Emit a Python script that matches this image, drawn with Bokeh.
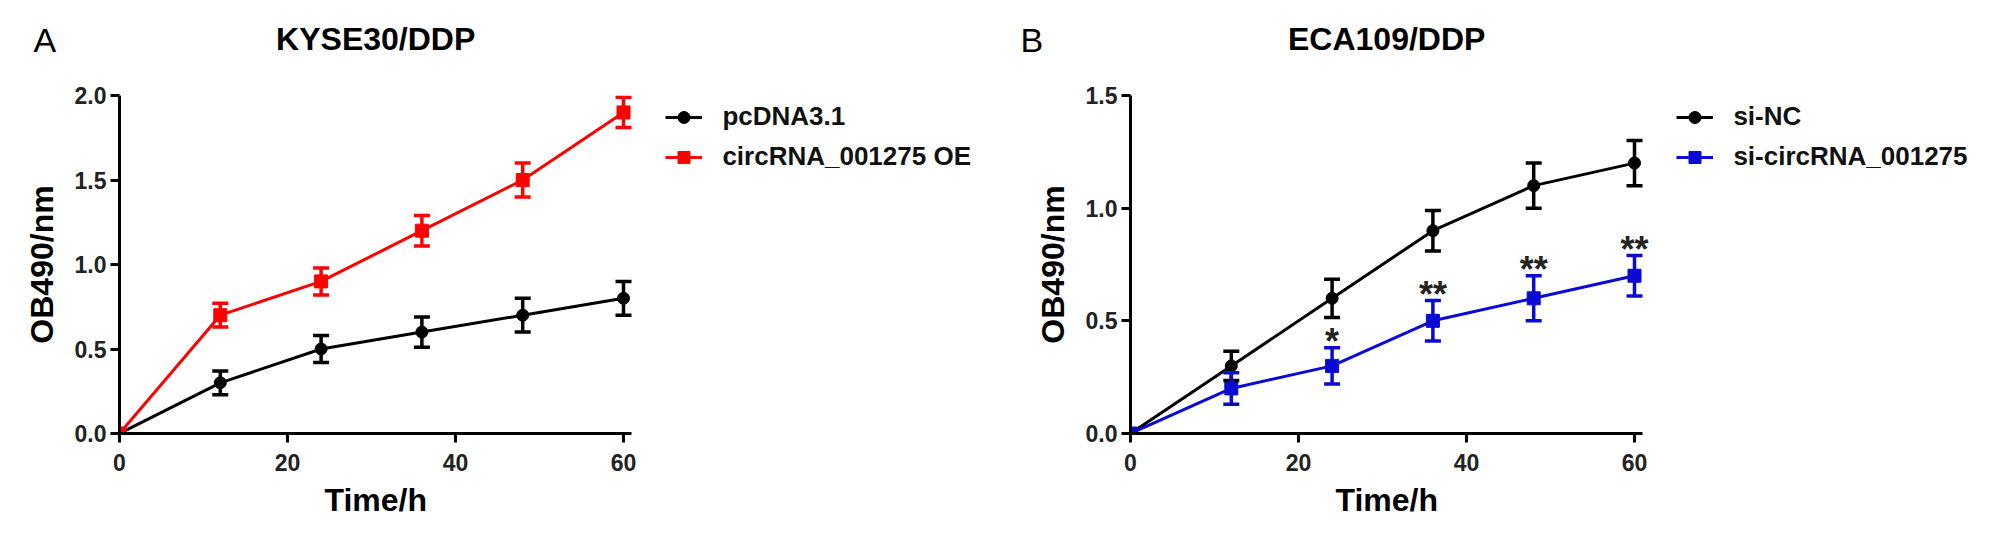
from bokeh.plotting import figure
from bokeh.models import (Range1d, FixedTicker, NumeralTickFormatter, Whisker, TeeHead,
                          ColumnDataSource, Legend, LegendItem)
from bokeh.layouts import row, column
from bokeh.embed import file_html
from bokeh.resources import INLINE
from bokeh.core.properties import value

# ---------------- data ----------------
time_h = [0, 12, 24, 36, 48, 60]
x_ticks = [0, 20, 40, 60]

a_title = "KYSE30/DDP"
a_ctrl_name = "pcDNA3.1"
a_ctrl_mean = [0.0, 0.30, 0.50, 0.60, 0.70, 0.80]
a_ctrl_sd = [0.0, 0.07, 0.08, 0.09, 0.10, 0.10]
a_oe_name = "circRNA_001275 OE"
a_oe_mean = [0.0, 0.70, 0.90, 1.20, 1.50, 1.90]
a_oe_sd = [0.0, 0.07, 0.08, 0.09, 0.10, 0.09]
a_y_ticks = [0.0, 0.5, 1.0, 1.5, 2.0]

b_title = "ECA109/DDP"
b_ctrl_name = "si-NC"
b_ctrl_mean = [0.0, 0.30, 0.60, 0.90, 1.10, 1.20]
b_ctrl_sd = [0.0, 0.065, 0.085, 0.09, 0.10, 0.10]
b_si_name = "si-circRNA_001275"
b_si_mean = [0.0, 0.20, 0.30, 0.50, 0.60, 0.70]
b_si_sd = [0.0, 0.07, 0.08, 0.09, 0.10, 0.09]
b_stars = ["", "", "*", "**", "**", "**"]
b_y_ticks = [0.0, 0.5, 1.0, 1.5]

panel_letters = ["A", "B"]
x_label = "Time/h"
y_label = "OB490/nm"

FONT = "Liberation Sans"
RED = "#FF0000"
BLUE = "#0A0AD2"
BLACK = "#000000"

# ---------------- layout constants (pixels) ----------------
WIDTHS = [1000, 992]
TOTAL_W = sum(WIDTHS)
PANEL_X0 = [0, WIDTHS[0]]
STRIP_H = 62        # header strip (letters + titles)
MAIN_H = 420        # plots
FOOT_H = 48         # footer strip (x-axis titles)
FRAME_TOP = 33
FRAME_BOTTOM = 371
MB_RIGHT = 10
XU = 8.4            # pixels per hour
AXIS_END = 61       # x-axis line runs to 61 h
FRAME_LEFTS = [119, 130]
TEXT_SHIFT = 12     # baseline correction for text glyphs


def make_panel(i, ymax, y_ticks, series, stars=None):
    width = WIDTHS[i]
    frame_left = FRAME_LEFTS[i]
    x_end = (width - frame_left - MB_RIGHT) / XU
    p = figure(width=width, height=MAIN_H, title=None,
               x_range=Range1d(0, x_end), y_range=Range1d(0, ymax),
               output_backend="svg", toolbar_location=None,
               min_border_left=frame_left, min_border_right=MB_RIGHT,
               min_border_top=FRAME_TOP, min_border_bottom=MAIN_H - FRAME_BOTTOM,
               outline_line_color=None, background_fill_color="white",
               border_fill_color="white")
    p.xgrid.visible = False
    p.ygrid.visible = False

    for ax in (p.xaxis[0], p.yaxis[0]):
        ax.axis_line_width = 3
        ax.axis_line_color = BLACK
        ax.major_tick_line_width = 3
        ax.major_tick_line_color = BLACK
        ax.major_tick_out = 9
        ax.major_tick_in = 0
        ax.minor_tick_line_color = None
        ax.major_label_text_font = FONT
        ax.major_label_text_font_size = "23px"
        ax.major_label_text_font_style = "bold"
        ax.major_label_text_color = "#222222"
        ax.axis_label_text_font = FONT
        ax.axis_label_text_font_size = "32px"
        ax.axis_label_text_font_style = "bold"
        ax.axis_label_text_color = BLACK

    p.xaxis[0].bounds = (0, AXIS_END)
    p.xaxis[0].ticker = FixedTicker(ticks=x_ticks)
    p.xaxis[0].major_label_standoff = 11
    p.yaxis[0].ticker = FixedTicker(ticks=y_ticks)
    p.yaxis[0].formatter = NumeralTickFormatter(format="0.0")
    p.yaxis[0].axis_label = y_label
    p.yaxis[0].major_label_standoff = 4
    p.yaxis[0].axis_label_standoff = 12

    items = []
    for name, mean, sd, color, marker, msize in series:
        lr = p.line(time_h, mean, line_color=color, line_width=3)
        idx = [k for k, s in enumerate(sd) if s > 0]
        src = ColumnDataSource(dict(
            x=[time_h[k] for k in idx],
            upper=[mean[k] + sd[k] for k in idx],
            lower=[mean[k] - sd[k] for k in idx]))
        w = Whisker(source=src, base="x", upper="upper", lower="lower",
                    line_color=color, line_width=3.5, level="glyph",
                    upper_head=TeeHead(size=16, line_color=color, line_width=3.5),
                    lower_head=TeeHead(size=16, line_color=color, line_width=3.5))
        p.add_layout(w)
        mr = p.scatter(time_h, mean, marker=marker, size=msize, fill_color=color,
                       line_color=color)
        items.append(LegendItem(label=name, renderers=[lr, mr]))

    if stars is not None:
        labels, mean, sd = stars
        idx = [k for k, s in enumerate(labels) if s]
        p.text(x=[time_h[k] for k in idx], y=[mean[k] + sd[k] for k in idx],
               text=[labels[k] for k in idx], text_font=value(FONT),
               text_font_size="36px", text_font_style="bold", text_color="#222222",
               text_align="center", text_baseline="alphabetic", y_offset=-6)

    legend = Legend(items=items, location=(AXIS_END * XU + 34, 261), orientation="vertical",
                    border_line_color=None, background_fill_alpha=0, padding=0, margin=0,
                    spacing=9, glyph_width=37, glyph_height=30, label_height=30,
                    label_standoff=20, label_text_font=FONT, label_text_font_size="26px",
                    label_text_font_style="bold", label_text_color="#111111")
    p.add_layout(legend, "center")
    return p


def make_strip(height):
    s = figure(width=TOTAL_W, height=height, title=None, x_range=Range1d(0, TOTAL_W),
               y_range=Range1d(0, height), output_backend="svg", toolbar_location=None,
               x_axis_location=None, y_axis_location=None, min_border=0,
               outline_line_color=None, background_fill_color="white",
               border_fill_color="white")
    s.grid.visible = False
    return s


pA = make_panel(0, 2.0, a_y_ticks,
                [(a_ctrl_name, a_ctrl_mean, a_ctrl_sd, BLACK, "circle", 12),
                 (a_oe_name, a_oe_mean, a_oe_sd, RED, "square", 13)])
pB = make_panel(1, 1.5, b_y_ticks,
                [(b_ctrl_name, b_ctrl_mean, b_ctrl_sd, BLACK, "circle", 12),
                 (b_si_name, b_si_mean, b_si_sd, BLUE, "square", 13)],
                stars=(b_stars, b_si_mean, b_si_sd))

center_x = [PANEL_X0[i] + FRAME_LEFTS[i] + AXIS_END * XU / 2 for i in range(2)]

# header: panel letters and titles
head = make_strip(STRIP_H)
head.text(x=center_x, y=[STRIP_H - 55 + TEXT_SHIFT + 5] * 2, text=[a_title, b_title],
          text_font=value(FONT), text_font_size="32px", text_font_style="bold",
          text_color=BLACK, text_align="center", text_baseline="alphabetic")
head.text(x=[PANEL_X0[0] + 33, PANEL_X0[1] + 20], y=[STRIP_H - 48 + TEXT_SHIFT - 3] * 2,
          text=panel_letters, text_font=value(FONT), text_font_size="34px",
          text_font_style="normal", text_color=BLACK, text_align="left",
          text_baseline="alphabetic")

# footer: x-axis titles centred under each axis
foot = make_strip(FOOT_H)
foot.text(x=center_x, y=[19 + TEXT_SHIFT] * 2, text=[x_label, x_label],
          text_font=value(FONT), text_font_size="32px", text_font_style="bold",
          text_color=BLACK, text_align="center", text_baseline="alphabetic")

layout = column(head, row(pA, pB), foot)
open("out.html", "w").write(file_html(layout, INLINE))
